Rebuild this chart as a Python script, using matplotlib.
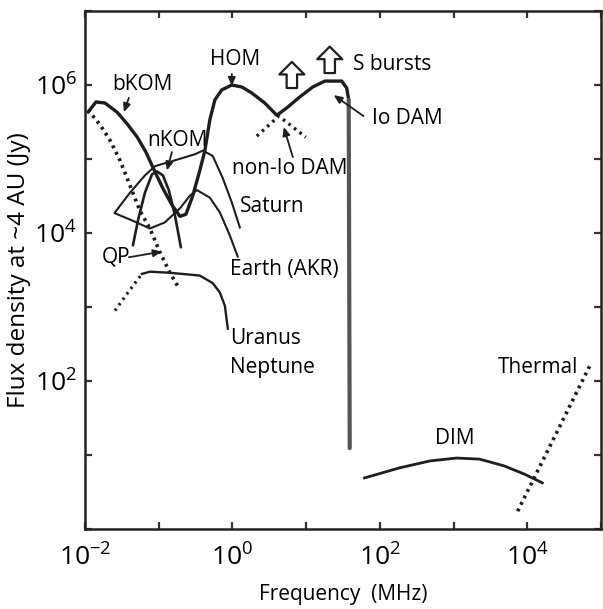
import matplotlib
matplotlib.use("Agg")
import matplotlib.pyplot as plt
from matplotlib.ticker import FixedLocator, FixedFormatter, NullLocator

plt.rcParams['font.family'] = ['Open Sans', 'DejaVu Sans']
plt.rcParams['mathtext.default'] = 'regular'

# ---- data (frequency in MHz, flux density in Jy) ----
jup_f = [0.011, 0.0141, 0.0187, 0.0272, 0.0371, 0.0507, 0.0671, 0.0834, 0.114, 0.151,
         0.194, 0.234, 0.29, 0.361, 0.423, 0.494, 0.578, 0.718, 0.98, 1.34, 1.83, 2.75,
         4.0, 5.46, 8.2, 12.3, 17.9, 30.4, 35.5, 37.8, 39.0]
jup_s = [4.3e5, 5.9e5, 5.7e5, 4.3e5, 3.0e5, 2.0e5, 1.24e5, 7.7e4, 4.0e4, 2.4e4,
         1.68e4, 1.79e4, 3.2e4, 7.0e4, 1.3e5, 3.4e5, 6.3e5, 8.6e5, 1.0e6, 9.4e5, 7.8e5, 5.7e5,
         3.9e5, 4.9e5, 6.9e5, 9.4e5, 1.13e6, 1.13e6, 9.1e5, 6.3e5, 12.4]

nkom_f = [0.0447, 0.0523, 0.065, 0.081, 0.0946, 0.114, 0.137, 0.166, 0.2]
nkom_s = [6.8e3, 1.48e4, 3.5e4, 6.2e4, 6.8e4, 6.0e4, 3.8e4, 1.73e4, 6.4e3]

saturn_f = [0.0255, 0.0407, 0.065, 0.089, 0.166, 0.31, 0.397, 0.54, 0.74, 0.98, 1.26]
saturn_s = [1.9e4, 3.5e4, 6.0e4, 8.0e4, 9.6e4, 1.16e5, 1.3e5, 1.1e5, 5.5e4, 2.6e4, 1.19e4]

earth_f = [0.0255, 0.0461, 0.076, 0.121, 0.194, 0.265, 0.33, 0.494, 0.675, 0.92, 1.18]
earth_s = [1.85e4, 1.44e4, 1.15e4, 1.39e4, 2.15e4, 3.2e4, 3.8e4, 3.0e4, 1.9e4, 9.3e3, 4.8e3]

qp_f = [0.011, 0.016, 0.0218, 0.0298, 0.0407, 0.0556, 0.076, 0.104, 0.142, 0.188]
qp_s = [4.6e5, 2.9e5, 1.8e5, 9.6e4, 4.4e4, 2.0e4, 1.15e4, 5.5e3, 2.9e3, 1.8e3]

un_dot_f = [0.0255, 0.0383, 0.0591]
un_dot_s = [893, 1570, 2800]
un_f = [0.0591, 0.076, 0.142, 0.361, 0.542, 0.675, 0.789, 0.866]
un_s = [2800, 3000, 2900, 2660, 2100, 1570, 1040, 510]

nonio_f = [2.14, 4.26, 9.9]
nonio_s = [2.04e5, 3.8e5, 1.97e5]

dim_f = [62, 185, 473, 1100, 2250, 4900, 9200, 16000]
dim_s = [4.9, 6.7, 8.3, 9.1, 8.8, 7.1, 5.5, 4.2]

thermal_f = [7400, 74000]
thermal_s = [1.74, 177]

sburst_f = [6.4, 20.9]
sburst_lo = [9.1e5, 1.45e6]
sburst_hi = [2.05e6, 3.3e6]

xticks = [1e-2, 1e-1, 1e0, 1e1, 1e2, 1e3, 1e4, 1e5]
xticklabels = ['$10^{-2}$', '', '$10^{0}$', '', '$10^{2}$', '', '$10^{4}$', '']
yticks = [1e0, 1e1, 1e2, 1e3, 1e4, 1e5, 1e6, 1e7]
yticklabels = ['', '', '$10^{2}$', '', '$10^{4}$', '', '$10^{6}$', '']

# labels: (text, freq, flux)
labels = [
    ('bKOM', 0.0232, 1.0e6),
    ('HOM', 0.494, 2.18e6),
    ('nKOM', 0.0692, 1.8e5),
    ('non-Io DAM', 0.98, 7.5e4),
    ('Saturn', 1.26, 2.29e4),
    ('Earth (AKR)', 0.92, 3.2e3),
    ('QP', 0.017, 4.7e3),
    ('Uranus', 0.92, 373),
    ('Neptune', 0.92, 151),
    ('S bursts', 42.8, 1.87e6),
    ('Io DAM', 77.5, 3.57e5),
    ('DIM', 553, 16.5),
    ('Thermal', 3950, 151),
]

# pointer arrows: (from_f, from_s, to_f, to_s)
pointers = [
    (0.0394, 6.7e5, 0.0337, 4.3e5),
    (0.98, 1.41e6, 0.98, 9.7e5),
    (0.151, 1.24e5, 0.129, 7.0e4),
    (0.0394, 4.7e3, 0.110, 5.6e3),
    (6.6, 1.06e5, 4.97, 2.7e5),
    (60, 3.8e5, 23.7, 7.3e5),
]

# ---- figure ----
fig = plt.figure(figsize=(6.03, 6.09), dpi=100)
ax = fig.add_axes([85/603, 80/609, 516/603, 518/609])
ax.set_xscale('log')
ax.set_yscale('log')
ax.set_xlim(1e-2, 1e5)
ax.set_ylim(1e0, 1e7)

c = '#1e1e1e'
ax.plot(jup_f[:-1], jup_s[:-1], color=c, lw=2.4, solid_capstyle='round', solid_joinstyle='round')
ax.plot(jup_f[-2:], jup_s[-2:], color='#555555', lw=3.0, solid_capstyle='round')
ax.plot(nkom_f, nkom_s, color=c, lw=1.9, solid_capstyle='round')
ax.plot(saturn_f, saturn_s, color=c, lw=1.5)
ax.plot(earth_f, earth_s, color=c, lw=1.5)
ax.plot(qp_f, qp_s, color=c, lw=2.6, ls=(0, (0.8, 1.2)))
ax.plot(un_dot_f, un_dot_s, color=c, lw=2.2, ls=(0, (0.8, 1.4)))
ax.plot(un_f, un_s, color=c, lw=1.7)
ax.plot(nonio_f, nonio_s, color=c, lw=2.4, ls=(0, (0.8, 1.3)))
ax.plot(dim_f, dim_s, color=c, lw=2.0)
ax.plot(thermal_f, thermal_s, color=c, lw=2.6, ls=(0, (0.8, 1.2)))

for f, lo, hi in zip(sburst_f, sburst_lo, sburst_hi):
    ax.annotate('', xy=(f, hi), xytext=(f, lo),
                arrowprops=dict(arrowstyle='simple,head_length=0.9,head_width=1.8,tail_width=0.75',
                                mutation_scale=10, fc='white', ec=c, lw=1.6,
                                shrinkA=0, shrinkB=0))

for f0, s0, f1, s1 in pointers:
    ax.annotate('', xy=(f1, s1), xytext=(f0, s0),
                arrowprops=dict(arrowstyle='-|>,head_length=0.5,head_width=0.22',
                                mutation_scale=10, color=c, lw=1.3,
                                shrinkA=0, shrinkB=0))

for t, f, s in labels:
    ax.text(f, s, t, fontsize=15, ha='left', va='center', color='black')

ax.xaxis.set_major_locator(FixedLocator(xticks))
ax.xaxis.set_major_formatter(FixedFormatter(xticklabels))
ax.xaxis.set_minor_locator(NullLocator())
ax.yaxis.set_major_locator(FixedLocator(yticks))
ax.yaxis.set_major_formatter(FixedFormatter(yticklabels))
ax.yaxis.set_minor_locator(NullLocator())
ax.tick_params(which='major', direction='in', length=5, width=1.6, color='#333333',
               top=True, right=True, labelsize=19)
ax.tick_params(axis='x', pad=11)
ax.tick_params(axis='y', pad=6)
for sp in ax.spines.values():
    sp.set_linewidth(1.8)
    sp.set_color('#222222')

ax.set_xlabel('Frequency  (MHz)', fontsize=15, labelpad=9)
ax.set_ylabel('Flux density at ~4 AU (Jy)', fontsize=17.5, labelpad=2)

fig.savefig('out.png', dpi=100)
